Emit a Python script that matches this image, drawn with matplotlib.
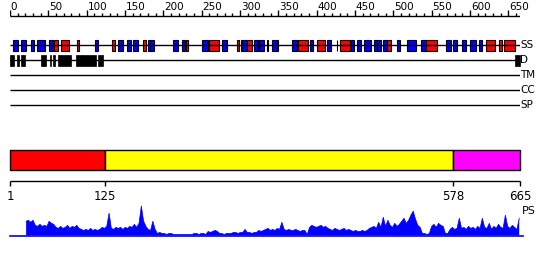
import matplotlib
matplotlib.use("Agg")
import matplotlib.pyplot as plt
from matplotlib.patches import Rectangle

# ---------------- data ----------------
seq_len = 665
ruler_max_label = 650

# secondary structure: (start, end, type)  H = helix (red), E = strand (blue)
ss_start = [4, 14, 27, 35, 51, 57, 66, 87, 111, 133, 141, 152, 160, 174, 180, 183,
            212, 224, 230, 251, 260, 277, 296, 301, 303, 309, 318, 325, 335, 342, 348,
            368, 375, 391, 400, 413, 426, 430, 445, 453, 462, 474, 479, 487, 491, 505,
            518, 536, 543, 569, 578, 590, 600, 611, 621, 638, 644]
ss_end = [10, 21, 31, 46, 56, 62, 77, 90, 115, 137, 147, 158, 167, 177, 182, 188,
          219, 228, 232, 258, 272, 283, 298, 303, 309, 315, 323, 331, 337, 348, 350,
          374, 388, 395, 411, 419, 427, 443, 449, 458, 471, 478, 484, 491, 497, 509,
          530, 542, 557, 575, 583, 594, 608, 616, 633, 642, 659]
ss_type = ["E", "E", "E", "E", "E", "H", "H", "H", "E", "H", "E", "E", "E", "H", "E", "E",
           "E", "E", "H", "E", "H", "E", "H", "H", "E", "H", "E", "E", "E", "E", "E",
           "E", "H", "E", "H", "E", "H", "H", "E", "E", "E", "E", "E", "E", "H", "E",
           "E", "E", "H", "E", "E", "E", "E", "E", "H", "H", "H"]

# disordered regions
dis_start = [0, 9.5, 14, 17.3, 40, 52, 56, 63, 86, 115, 658]
dis_end = [5, 12, 16.5, 19.5, 47, 54, 59, 80, 112, 121, 665]

track_names = ["SS", "D", "TM", "CC", "SP"]

# domains
dom_bounds = [1, 125, 578, 665]
dom_colors = ["#ff0000", "#ffff00", "#ff00ff"]

# PS profile (starting residue 22, one value every 3 residues)
ps_first = 22
ps_step = 3
ps_vals = [14, 15, 13, 15,
           10, 9, 11, 9, 10, 9,
           14, 12, 11,
           8, 7, 9, 7, 8,
           10, 7, 9, 8, 10, 7,
           6, 5, 6, 5, 7, 5, 6, 5, 6,
           8, 7, 9,
           22,
           7, 6, 8,
           7, 8, 6, 8, 7, 9, 8,
           11,
           8, 12,
           29,
           14,
           9, 6, 5, 14, 6,
           2, 3, 2, 2, 1, 2, 2,
           1, 1, 1, 1, 1, 1, 1, 1, 1,
           2, 2, 1, 2, 2, 1,
           4, 3, 4, 5, 4,
           2, 2, 1, 2, 2, 2, 3,
           3, 2, 3,
           3, 6, 3,
           3, 2, 3, 3,
           5, 4, 5, 6,
           7, 5, 6, 5, 7, 6,
           13, 6,
           5, 6, 5, 5, 6, 5, 4, 5, 5, 1,
           8, 10, 9, 8, 9, 10, 8, 9, 7,
           6, 5, 7, 6, 5, 6, 7, 5, 6, 5,
           4, 5, 4, 4, 5, 4, 5,
           7, 8, 9, 7,
           13, 8, 18, 9, 15,
           10, 8, 12, 9,
           11, 14, 17, 12, 15,
           20, 24, 16,
           10, 8,
           2, 2, 1, 2,
           9, 11, 8, 12, 10, 9, 2,
           2,
           6, 8, 6, 7, 17,
           7, 8, 6, 9, 7, 8, 6, 9, 7,
           17,
           8, 7, 12, 6, 9, 7, 11, 8, 7, 20,
           9, 7, 10, 8, 6, 17]

# ---------------- drawing ----------------
W, H = 550, 260
fig = plt.figure(figsize=(W / 100, H / 100), dpi=100)
plt.rcParams["font.family"] = ["DejaVu Sans"]

def px_axes(x0, x1, y0, y1):
    ax = fig.add_axes([x0 / W, 1 - y1 / H, (x1 - x0) / W, (y1 - y0) / H])
    ax.set_axis_off()
    return ax

BLUE = "#0000ff"
RED = "#ff0000"

# top panel: y in pixel-like units (inverted)
ax = px_axes(10, 520, 0, 112)
ax.set_xlim(0, seq_len)
ax.set_ylim(112, 0)

ruler_y = 16
ax.plot([0, seq_len], [ruler_y, ruler_y], color="black", lw=1, solid_capstyle="butt")
for t in range(0, seq_len + 1, 10):
    major = (t % 50 == 0)
    ax.plot([t, t], [ruler_y, ruler_y - (6.5 if major else 3)], color="black", lw=1,
            solid_capstyle="butt")
    if major and t <= ruler_max_label:
        ax.annotate(str(t), (t, ruler_y - 4), xytext=(0.5, 0), textcoords="offset points",
                    ha="left", va="bottom", fontsize=7.5)

track_y = [45, 60, 75, 90, 105]
for name, y in zip(track_names, track_y):
    ax.plot([0, seq_len], [y, y], color="black", lw=1, solid_capstyle="butt")
    ax.annotate(name, (seq_len, y), xytext=(0, 0), textcoords="offset points",
                ha="left", va="center", fontsize=7.5, annotation_clip=False)

ss_y = track_y[0]
for s, e, t in zip(ss_start, ss_end, ss_type):
    ax.add_patch(Rectangle((s, ss_y - 5.5), e - s, 11, facecolor=RED if t == "H" else BLUE,
                           edgecolor="black", lw=0.8, clip_on=False))

d_y = track_y[1]
for s, e in zip(dis_start, dis_end):
    ax.add_patch(Rectangle((s, d_y - 5.5), e - s, 11, facecolor="black",
                           edgecolor="black", lw=0.5, clip_on=False))

# domain panel
axd = px_axes(10, 520, 140, 205)
axd.set_xlim(dom_bounds[0], dom_bounds[-1])
axd.set_ylim(205, 140)
for i, c in enumerate(dom_colors):
    axd.add_patch(Rectangle((dom_bounds[i], 150), dom_bounds[i + 1] - dom_bounds[i], 20,
                            facecolor=c, edgecolor="black", lw=1, clip_on=False))
axd.plot([dom_bounds[0], dom_bounds[-1]], [181, 181], color="black", lw=1,
         solid_capstyle="butt", clip_on=False)
for b in dom_bounds:
    axd.plot([b, b], [181, 186], color="black", lw=1, solid_capstyle="butt", clip_on=False)
    axd.annotate(str(b), (b, 190), ha="center", va="top", fontsize=8.5, annotation_clip=False)

# PS panel
axp = px_axes(10, 520, 203, 235.5)
axp.set_xlim(dom_bounds[0], dom_bounds[-1])
axp.set_ylim(0, 32)
ps_x = [ps_first + ps_step * i for i in range(len(ps_vals))]
axp.fill_between(ps_x, 0, ps_vals, color=BLUE, lw=0, edgecolor="none")
axp.plot(ps_x, ps_vals, color=BLUE, lw=0.5)
axp.plot([dom_bounds[0], dom_bounds[-1] + 4], [0, 0], color=BLUE, lw=1.2, clip_on=False)
axp.annotate("PS", (dom_bounds[-1], 24), xytext=(1, 0), textcoords="offset points",
             ha="left", va="center", fontsize=8, annotation_clip=False)

fig.savefig("out.png", dpi=100)
